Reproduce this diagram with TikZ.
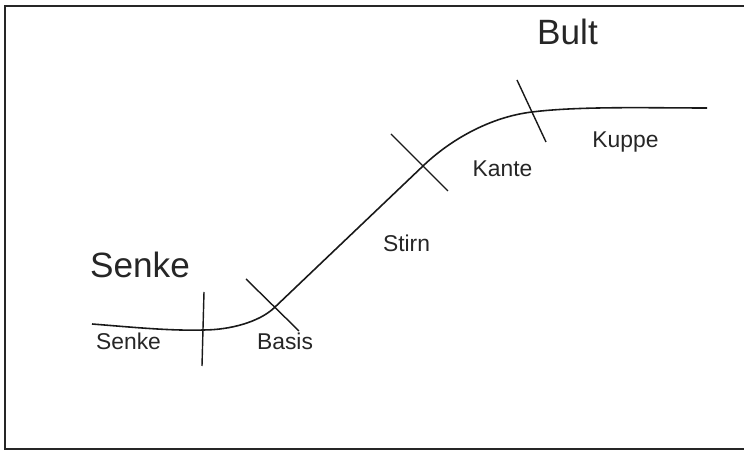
\documentclass[tikz,border=0pt]{standalone}
\usepackage{fontspec}
\setmainfont{Liberation Sans}
\usepackage{tikz}
\usetikzlibrary{calc}

\begin{document}
\begin{tikzpicture}[scale=1.0,
    seglabel/.style={anchor=base, text=black!85, font=\fontsize{13}{15}\selectfont},
    biglabel/.style={anchor=base, text=black!85, font=\fontsize{20}{24}\selectfont},
    profile/.style={line width=0.9pt, black!90},
    divider/.style={line width=0.8pt, black!90}]
                % Page and frame (open on the right)
                \clip (0,0) rectangle (14.88,9);
                \fill[white] (0,0) rectangle (14.88,9);
                \draw[line width=1.1pt, black!85] (15.2,8.88) -- (0.1,8.88) -- (0.1,0.02) -- (15.2,0.02);
                
                % Slope profile from the hollow up to the crest
                \coordinate (p0) at (1.84,2.52);
                \coordinate (p1) at (4.06,2.40);
                \coordinate (p2) at (5.48,2.84);
                \coordinate (p3) at (8.46,5.68);
                \coordinate (p4) at (10.64,6.76);
                \coordinate (p5) at (14.14,6.84);
                \draw[profile] (p0) .. controls (2.60,2.46) and (3.40,2.38) .. (p1)
                    .. controls (4.60,2.40) and (5.18,2.56) .. (p2)
                    -- (p3)
                    .. controls (9.00,6.20) and (9.80,6.66) .. (p4)
                    .. controls (11.60,6.88) and (13.00,6.84) .. (p5);
                
                % Dividers between the parts of the slope
                \coordinate (d1a) at (4.08,3.16);
                \coordinate (d1b) at (4.04,1.68);
                \coordinate (d2a) at (4.92,3.42);
                \coordinate (d2b) at (5.98,2.38);
                \coordinate (d3a) at (7.82,6.32);
                \coordinate (d3b) at (8.96,5.18);
                \coordinate (d4a) at (10.34,7.40);
                \coordinate (d4b) at (10.92,6.16);
                \draw[divider] (d1a) -- (d1b);
                \draw[divider] (d2a) -- (d2b);
                \draw[divider] (d3a) -- (d3b);
                \draw[divider] (d4a) -- (d4b);
                
                % Big landform names
                \node[biglabel] (bult) at (11.35,8.10) {Bult};
                \node[biglabel] (senkebig) at (2.80,3.44) {Senke};
                
                % Part names along the profile
                \node[seglabel] (senke) at (2.57,2.00) {Senke};
                \node[seglabel] (basis) at (5.70,2.00) {Basis};
                \node[seglabel] (stirn) at (8.13,3.97) {Stirn};
                \node[seglabel] (kante) at (10.05,5.46) {Kante};
                \node[seglabel] (kuppe) at (12.51,6.04) {Kuppe};
            \end{tikzpicture}
\end{document}
